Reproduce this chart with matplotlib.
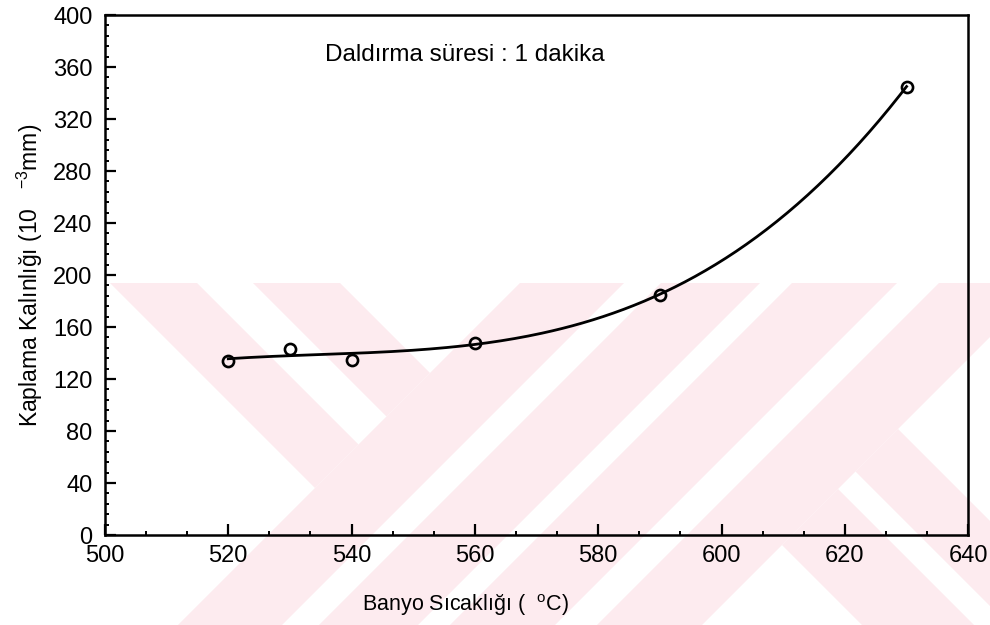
import numpy as np
import matplotlib.pyplot as plt
from matplotlib.patches import Polygon, Rectangle
from matplotlib.ticker import MultipleLocator

plt.rcParams['font.family'] = ['Liberation Sans', 'DejaVu Sans']
plt.rcParams['mathtext.fontset'] = 'custom'
plt.rcParams['mathtext.rm'] = 'Liberation Sans'
plt.rcParams['mathtext.it'] = 'Liberation Sans'
plt.rcParams['mathtext.default'] = 'regular'

# olculen noktalar
sicaklik = [520, 530, 540, 560, 590, 630]
kalinlik = [134, 143, 135, 148, 185, 345]

x_ticks = [500, 520, 540, 560, 580, 600, 620, 640]
y_ticks = [0, 40, 80, 120, 160, 200, 240, 280, 320, 360, 400]

fig = plt.figure(figsize=(9.9, 6.25), dpi=100)
fig.patch.set_facecolor('white')

# arka plandaki pembe filigran (piksel koordinatlari)
bg = fig.add_axes([0, 0, 1, 1], zorder=0)
bg.set_xlim(0, 990)
bg.set_ylim(625, 0)
bg.axis('off')
pink = '#fdebef'
clip = Rectangle((110, 283), 880, 342, transform=bg.transData)

bands = []
# "/" seritler, x + y araligi
for s1, s2 in [(803, 907), (944, 1043), (1075, 1180), (1222, 1327)]:
    bands.append([(s1 - 283, 283), (s2 - 283, 283), (s2 - 625, 625), (s1 - 625, 625)])
# "\" seritler
bands.append([(110, 283), (197, 283), (358.5, 444.5), (315, 488)])
bands.append([(253, 283), (340, 283), (430, 373), (386.5, 416.5)])
bands.append([(898, 429), (1100, 631), (1015, 631), (855.5, 471.5)])
bands.append([(838, 489), (980, 631), (868, 631), (782, 545)])
for b in bands:
    p = Polygon(b, closed=True, facecolor=pink, edgecolor='none')
    bg.add_patch(p)
    p.set_clip_path(clip)

ax = fig.add_axes([0.106, 0.144, 0.872, 0.832], zorder=1)
ax.patch.set_alpha(0)

coef = np.polyfit(sicaklik, kalinlik, 3)
xs = np.linspace(min(sicaklik), max(sicaklik), 200)
ax.plot(xs, np.polyval(coef, xs), color='black', lw=2.0)
ax.plot(sicaklik, kalinlik, 'o', color='black', mfc='none', ms=8, mew=1.9)

ax.set_xlim(500, 640)
ax.set_ylim(0, 400)
ax.set_xticks(x_ticks)
ax.set_yticks(y_ticks)
ax.xaxis.set_minor_locator(MultipleLocator(20 / 3))
ax.yaxis.set_minor_locator(MultipleLocator(8))
ax.tick_params(which='major', direction='in', length=8, width=1.6, labelsize=17)
ax.tick_params(axis='x', which='major', pad=7)
ax.tick_params(axis='y', which='major', pad=9)
ax.tick_params(which='minor', direction='in', length=3, width=1.4)
for sp in ax.spines.values():
    sp.set_linewidth(1.8)

ax.text(535.7, 369, 'Daldırma süresi : 1 dakika', fontsize=17.5, va='center', ha='left')
ax.set_xlabel(r'Banyo Sıcaklığı (  $^{o}$C)', fontsize=15.5)
ax.xaxis.set_label_coords(0.418, -0.11)
ax.set_ylabel(r'Kaplama Kalınlığı (10   $^{-3}$mm)', fontsize=16.5, labelpad=6)

fig.savefig('out.png', dpi=100)
